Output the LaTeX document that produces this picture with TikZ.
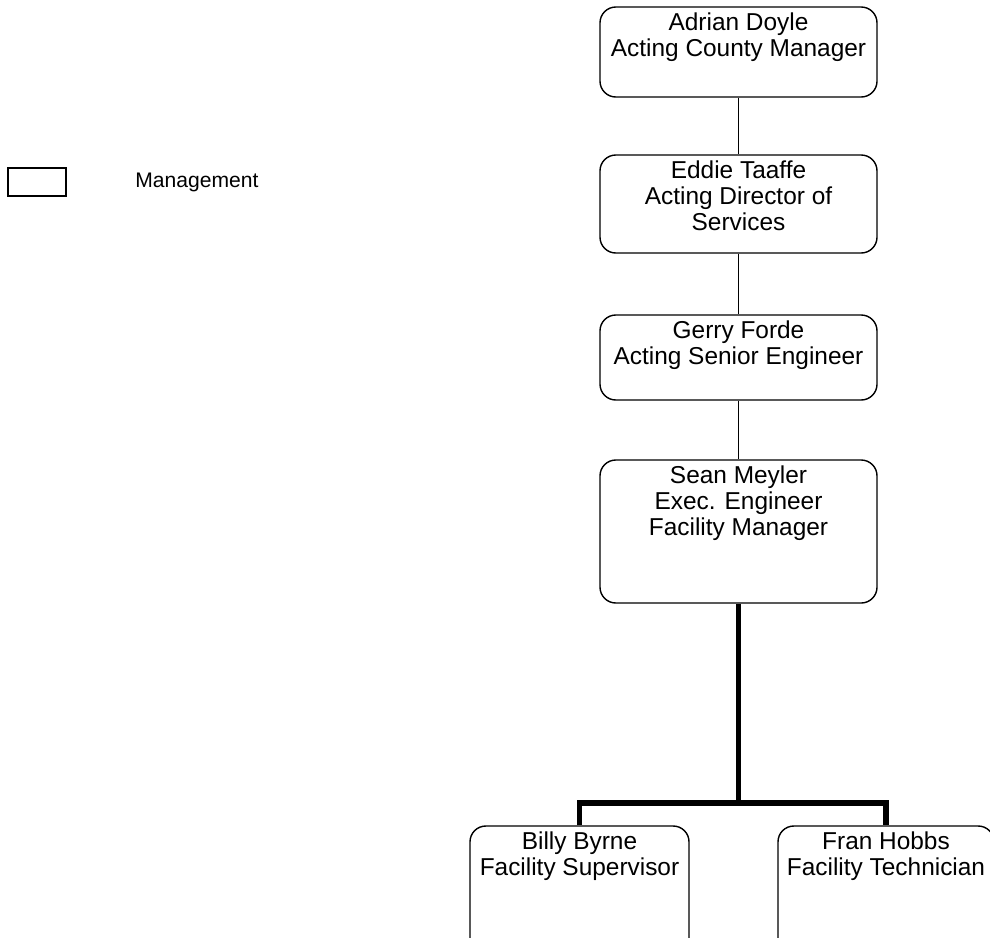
\documentclass[tikz,border=0pt]{standalone}
\usepackage{fontspec}
\setmainfont{Liberation Sans}
\tikzset{
  post/.style={draw,line width=0.8pt,rounded corners=9pt,minimum width=277*0.02cm},
  postname/.style={anchor=north,align=center,inner sep=0pt,yshift=-3.5pt,
    font=\fontsize{13.9}{14.7}\selectfont},
  heavy/.style={line width=3.2pt}
}
\begin{document}
\begin{tikzpicture}[x=0.02cm,y=-0.02cm]
                \useasboundingbox (0,0) rectangle (990,937);
                \clip (0,0) rectangle (990,937);
                %% legend
                \node[draw,line width=0.8pt,minimum width=58*0.02cm,minimum height=28*0.02cm,inner sep=0pt] (key) at (37,182) {};
                \node[anchor=west,inner sep=0pt,font=\fontsize{12}{14}\selectfont] (keytext) at (135,182) {Management};
                %% boxes
                \node[post,minimum height=90*0.02cm] (doyle) at (738.5,52) {};
                \node[postname] (doyletext) at (doyle.north) {Adrian Doyle\\Acting County Manager};
                \node[post,minimum height=98*0.02cm] (taaffe) at (738.5,204) {};
                \node[postname] (taaffetext) at (taaffe.north) {Eddie Taaffe\\Acting Director of\\Services};
                \node[post,minimum height=85*0.02cm] (forde) at (738.5,357.5) {};
                \node[postname] (fordetext) at (forde.north) {Gerry Forde\\Acting Senior Engineer};
                \node[post,minimum height=143*0.02cm] (meyler) at (738.5,531.5) {};
                \node[postname] (meylertext) at (meyler.north) {Sean Meyler\\Exec. Engineer\\Facility Manager};
                \node[post,minimum width=219*0.02cm,minimum height=130*0.02cm] (byrne) at (579.5,891) {};
                \node[postname] (byrnetext) at (byrne.north) {Billy Byrne\\Facility Supervisor};
                \node[post,minimum width=216*0.02cm,minimum height=130*0.02cm] (hobbs) at (886,891) {};
                \node[postname] (hobbstext) at (hobbs.north) {Fran Hobbs\\Facility Technician};
                %% reporting lines
                \foreach \a/\b in {doyle/taaffe,forde/meyler,taaffe/forde}
                    \draw[line width=0.6pt] (\a) -- (\b);
                \coordinate (split) at (738.5,803);
                \draw[heavy] (meyler.south) -- (split);
                \draw[heavy] (byrne.north) |- (split) -| (hobbs.north);
\end{tikzpicture}
\end{document}
